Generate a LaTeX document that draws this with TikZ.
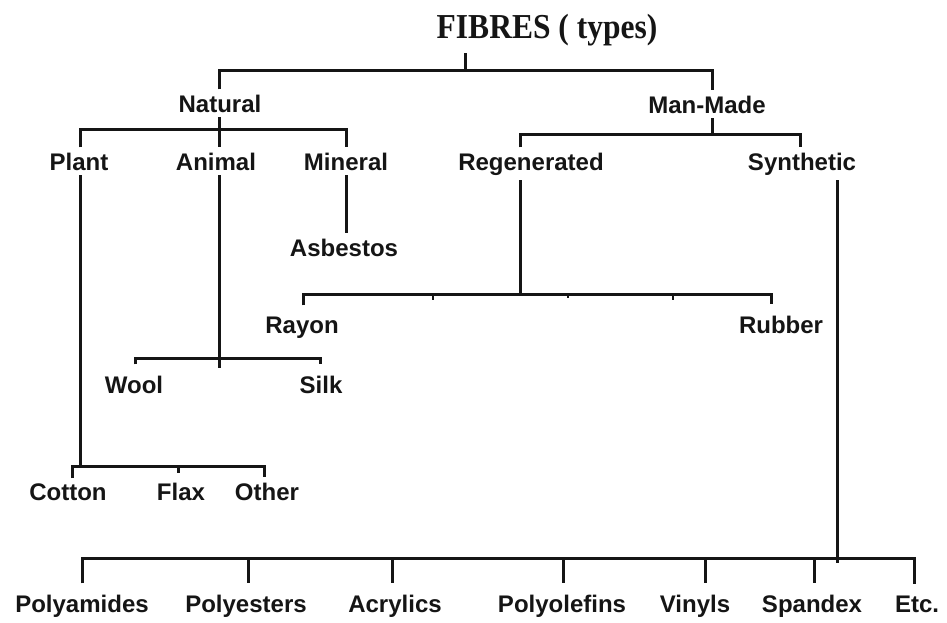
\documentclass[tikz,border=0pt]{standalone}
\usepackage{fontspec}
\setmainfont{Liberation Sans}
\newfontfamily\titlefont{Liberation Serif}
\definecolor{ink}{HTML}{151515}
\begin{document}
\begin{tikzpicture}[x=1pt,y=-1pt,
  lbl/.style={font=\bfseries\fontsize{24}{28}\selectfont, text=ink, inner xsep=0pt, inner ysep=5pt, anchor=base},
  lowlbl/.style={lbl, inner ysep=11pt},
  ln/.style={line width=3pt, draw=ink}]
\fill[white] (0,0) rectangle (947,622);
\useasboundingbox (0,0) rectangle (947,622);

% title
\node[anchor=base, inner sep=0pt, text=ink, xscale=0.9,
      font=\titlefont\bfseries\fontsize{35}{40}\selectfont] (title) at (547,38) {FIBRES ( types)};

% labels
\node[lbl] (natural) at (220,112) {Natural};
\node[lbl] (manmade) at (707,113) {Man-Made};
\node[lbl] (plant) at (79,170) {Plant};
\node[lbl] (animal) at (216,170) {Animal};
\node[lbl] (mineral) at (346,170) {Mineral};
\node[lbl] (regen) at (531,170) {Regenerated};
\node[lbl] (synth) at (802,170) {Synthetic};
\node[lbl] (asbestos) at (344,256) {Asbestos};
\node[lowlbl] (rayon) at (302,333) {Rayon};
\node[lowlbl] (rubber) at (781,333) {Rubber};
\node[lowlbl] (wool) at (134,393) {Wool};
\node[lowlbl] (silk) at (321,393) {Silk};
\node[lbl] (cotton) at (68,500) {Cotton};
\node[lbl] (flax) at (181,500) {Flax};
\node[lbl] (other) at (267,500) {Other};
\node[lowlbl] (polyamides) at (82,612) {Polyamides};
\node[lowlbl] (polyesters) at (246,612) {Polyesters};
\node[lowlbl] (acrylics) at (395,612) {Acrylics};
\node[lowlbl] (polyolefins) at (562,612) {Polyolefins};
\node[lowlbl] (vinyls) at (695,612) {Vinyls};
\node[lowlbl] (spandex) at (812,612) {Spandex};
\node[lowlbl] (etc) at (917,612) {Etc.};

% junction coordinates
\coordinate (t0) at (465,53);
\coordinate (j0) at (465,70);
\coordinate (j0l) at (219,70);
\coordinate (j0r) at (712,70);
\coordinate (j1) at (219,129);
\coordinate (j1l) at (80,129);
\coordinate (j1r) at (346,129);
\coordinate (j2) at (712,134);
\coordinate (j2l) at (520,134);
\coordinate (j2r) at (800,134);
\coordinate (j3) at (520,294);
\coordinate (j3l) at (303,294);
\coordinate (j3r) at (771,294);
\coordinate (k1) at (433,294);
\coordinate (k2) at (568,294);
\coordinate (k3) at (673,294);
\coordinate (j4) at (219,358);
\coordinate (j4b) at (219,368);
\coordinate (j4l) at (135,358);
\coordinate (j4r) at (320,358);
\coordinate (j5) at (80,466);
\coordinate (j5l) at (72,466);
\coordinate (j5m) at (178,466);
\coordinate (j5r) at (264,466);
\coordinate (j6) at (837,558);
\coordinate (j6b) at (837,563);
\coordinate (b1) at (82,558);
\coordinate (b2) at (248,558);
\coordinate (b3) at (392,558);
\coordinate (b4) at (563,558);
\coordinate (b5) at (705,558);
\coordinate (b6) at (814,558);
\coordinate (b7) at (914,558);

% root
\draw[ln] (t0) -- (j0);
\draw[ln] (natural.north -| j0l) -- (j0l) -- (j0r) -- (manmade.north -| j0r);

% natural
\draw[ln] (natural.south -| j1) -- (animal.north -| j1);
\draw[ln] (plant.north -| j1l) -- (j1l) -- (j1r) -- (mineral.north -| j1r);

% man-made
\draw[ln] (manmade.south -| j2) -- (j2);
\draw[ln] (regen.north -| j2l) -- (j2l) -- (j2r) -- (synth.north -| j2r);

% mineral
\draw[ln] (mineral.south -| j1r) -- (asbestos.north -| j1r);

% regenerated
\draw[ln] (regen.south -| j3) -- (j3);
\draw[ln] (rayon.north -| j3l) -- (j3l) -- (j3r) -- (rubber.north -| j3r);
\draw[line width=2pt, draw=ink] (k1) -- ++(0,6);
\draw[line width=2pt, draw=ink] (k2) -- ++(0,4);
\draw[line width=2pt, draw=ink] (k3) -- ++(0,6);

% animal
\draw[ln] (animal.south -| j4) -- (j4b);
\draw[ln] (wool.north -| j4l) -- (j4l) -- (j4r) -- (silk.north -| j4r);

% plant
\draw[ln] (plant.south -| j5) -- (j5);
\draw[ln] (cotton.north -| j5l) -- (j5l) -- (j5r) -- (other.north -| j5r);
\draw[ln] (j5m) -- ++(0,7);

% synthetic
\draw[ln] (synth.south -| j6) -- (j6b);
\draw[ln] (polyamides.north -| b1) -- (b1) -- (b7) -- (etc.north -| b7);
\draw[ln] (b2) -- (polyesters.north -| b2);
\draw[ln] (b3) -- (acrylics.north -| b3);
\draw[ln] (b4) -- (polyolefins.north -| b4);
\draw[ln] (b5) -- (vinyls.north -| b5);
\draw[ln] (b6) -- (spandex.north -| b6);
\end{tikzpicture}
\end{document}
